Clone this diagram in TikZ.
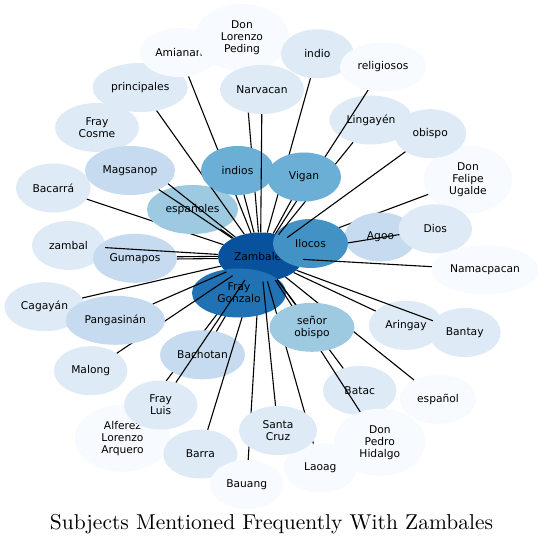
\documentclass[tikz,border=0pt]{standalone}
\usepackage{fontspec}
\newfontfamily\nodefont{DejaVu Sans}
\newfontfamily\titlefont{lmroman10-regular}[Extension=.otf]
\usetikzlibrary{shapes.geometric}
\definecolor{bA}{HTML}{F7FBFF}
\definecolor{bB}{HTML}{DEEBF7}
\definecolor{bC}{HTML}{C6DBEF}
\definecolor{bD}{HTML}{9ECAE1}
\definecolor{bE}{HTML}{6BAED6}
\definecolor{bF}{HTML}{4292C6}
\definecolor{bG}{HTML}{2171B5}
\definecolor{bH}{HTML}{08519C}
\tikzset{
  gnode/.style={ellipse, inner sep=0pt, align=center, text=black,
    font=\nodefont\fontsize{10.7}{12}\selectfont},
  conn/.style={draw=black, line width=1.1pt},
}
\begin{document}
\begin{tikzpicture}[x=1pt,y=-1pt]
\useasboundingbox (0,0) rectangle (544,545);
\fill[white] (0,0) rectangle (544,545);
% hub
\node[gnode, fill=bH, minimum width=85pt, minimum height=49pt] (zamb) at (260.5,257) {Zambales};
% lower left cluster
\node[gnode, fill=bA, minimum width=95pt, minimum height=67pt] (alferez) at (122.5,438.3) {Alferez\\Lorenzo\\Arquero};
\draw[conn] (zamb) -- (alferez);
\node[gnode, fill=bC, minimum width=85pt, minimum height=49pt] (bachotan) at (202.5,354.8) {Bachotan};
\draw[conn] (zamb) -- (bachotan);
\node[gnode, fill=bB, minimum width=74pt, minimum height=49pt] (barra) at (200.3,454) {Barra};
\draw[conn] (zamb) -- (barra);
\node[gnode, fill=bA, minimum width=73.4pt, minimum height=49pt] (bauang) at (246.7,484.5) {Bauang};
\draw[conn] (zamb) -- (bauang);
\node[gnode, fill=bB, minimum width=73.4pt, minimum height=49pt] (frayluis) at (160.7,405) {Fray\\Luis};
\node[gnode, fill=bG, minimum width=94pt, minimum height=49pt] (fg) at (239,293) {Fray\\Gonzalo};
\draw[conn] (zamb) -- (frayluis);
% lower middle / right
\node[gnode, fill=bA, minimum width=73.2pt, minimum height=49pt] (laoag) at (320.3,467.8) {Laoag};
\draw[conn] (zamb) -- (laoag);
\node[gnode, fill=bB, minimum width=78pt, minimum height=49pt] (santacruz) at (278,430.5) {Santa\\Cruz};
\draw[conn] (zamb) -- (santacruz);
\node[gnode, fill=bB, minimum width=73.4pt, minimum height=49pt] (batac) at (359.7,390.5) {Batac};
\draw[conn] (zamb) -- (batac);
\node[gnode, fill=bA, minimum width=91pt, minimum height=67pt] (dph) at (379.8,442.3) {Don\\Pedro\\Hidalgo};
\draw[conn] (zamb) -- (dph);
\node[gnode, fill=bA, minimum width=76pt, minimum height=49pt] (espanol) at (438,399.2) {español};
\draw[conn] (zamb) -- (espanol);
\node[gnode, fill=bD, minimum width=85pt, minimum height=49pt] (senor) at (312,327.3) {señor\\obispo};
\draw[conn] (zamb) -- (senor);
\node[gnode, fill=bB, minimum width=74pt, minimum height=49pt] (aringay) at (406,325.3) {Aringay};
\draw[conn] (zamb) -- (aringay);
\node[gnode, fill=bB, minimum width=72pt, minimum height=49pt] (bantay) at (464.7,332.5) {Bantay};
\draw[conn] (zamb) -- (bantay);
% left
\node[gnode, fill=bB, minimum width=80pt, minimum height=49pt] (cagayan) at (44.5,306.7) {Cagayán};
\draw[conn] (zamb) -- (cagayan);
\node[gnode, fill=bB, minimum width=73.4pt, minimum height=49pt] (malong) at (90.7,370.7) {Malong};
\draw[conn] (zamb) -- (malong);
\node[gnode, fill=bC, minimum width=99.4pt, minimum height=49pt] (pangasinan) at (115.3,320.3) {Pangasinán};
\draw[conn] (zamb) -- (pangasinan);
\node[gnode, fill=bB, minimum width=73pt, minimum height=49pt] (zambal) at (68.5,245.4) {zambal};
\node[gnode, fill=bC, minimum width=84pt, minimum height=49pt] (gumapos) at (135,258.3) {Gumapos};
\draw[conn, transform canvas={yshift=-1.1pt}] (zamb) -- (gumapos);
\draw[conn, transform canvas={yshift=1.1pt}] (zamb) -- (gumapos);
\draw[conn] (zamb) -- (zambal);
\node[gnode, fill=bB, minimum width=74.6pt, minimum height=49pt] (bacarra) at (53.3,188) {Bacarrá};
\draw[conn] (zamb) -- (bacarra);
\node[gnode, fill=bD, minimum width=91pt, minimum height=49pt] (espanoles) at (192.5,209.5) {españoles};
\draw[conn] (zamb) -- (espanoles);
\node[gnode, fill=bB, minimum width=95pt, minimum height=49pt] (principales) at (140.2,87.5) {principales};
\draw[conn] (zamb) -- (principales);
\node[gnode, fill=bB, minimum width=84pt, minimum height=49pt] (fraycosme) at (97,127.5) {Fray\\Cosme};
\draw[conn] (zamb) -- (fraycosme);
\node[gnode, fill=bC, minimum width=90pt, minimum height=49pt] (magsanop) at (130,170.5) {Magsanop};
\draw[conn] (zamb) -- (magsanop);
% top
\node[gnode, fill=bA, minimum width=78pt, minimum height=49pt] (amianan) at (179,52.5) {Amianan};
\node[gnode, fill=bA, minimum width=94pt, minimum height=67pt] (dlp) at (242,37.5) {Don\\Lorenzo\\Peding};
\draw[conn] (zamb) -- (amianan);
\draw[conn] (zamb) -- (dlp);
\node[gnode, fill=bE, minimum width=73pt, minimum height=49pt] (indios) at (237.5,170.5) {indios};
\draw[conn] (zamb) -- (indios);
\node[gnode, fill=bB, minimum width=84pt, minimum height=49pt] (narvacan) at (262,89.5) {Narvacan};
\draw[conn] (zamb) -- (narvacan);
% right
\node[gnode, fill=bA, minimum width=88pt, minimum height=68pt] (dfu) at (468,179.5) {Don\\Felipe\\Ugalde};
\draw[conn] (zamb) -- (dfu);
\node[gnode, fill=bC, minimum width=72pt, minimum height=49pt] (agoo) at (380.5,237) {Agoo};
\node[gnode, fill=bB, minimum width=73.4pt, minimum height=49pt] (dios) at (435.3,228.8) {Dios};
\draw[conn] (zamb) -- (dios);
\node[gnode, fill=bF, minimum width=75pt, minimum height=49pt] (ilocos) at (310.5,243.5) {Ilocos};
\node[gnode, fill=bA, minimum width=106.6pt, minimum height=49pt] (namacpacan) at (485,269.7) {Namacpacan};
\draw[conn] (zamb) -- (namacpacan);
\node[gnode, fill=bB, minimum width=83pt, minimum height=49pt] (lingayen) at (371,120) {Lingayén};
\draw[conn] (zamb) -- (lingayen);
\node[gnode, fill=bB, minimum width=72.6pt, minimum height=49pt] (indio) at (317.3,53.8) {indio};
\draw[conn] (zamb) -- (indio);
\node[gnode, fill=bA, minimum width=86pt, minimum height=49pt] (religiosos) at (383,67) {religiosos};
\draw[conn] (zamb) -- (religiosos);
\node[gnode, fill=bB, minimum width=72pt, minimum height=49pt] (obispo) at (430.2,133.7) {obispo};
\draw[conn] (zamb) -- (obispo);
\node[gnode, fill=bE, minimum width=74pt, minimum height=49pt] (vigan) at (304,177) {Vigan};
\draw[conn] (zamb) -- (vigan);
% title
\node[font=\titlefont\fontsize{21.5}{25}\selectfont, anchor=base, inner sep=0pt] (title) at (271.5,529.3) {Subjects Mentioned Frequently With Zambales};
\end{tikzpicture}
\end{document}
